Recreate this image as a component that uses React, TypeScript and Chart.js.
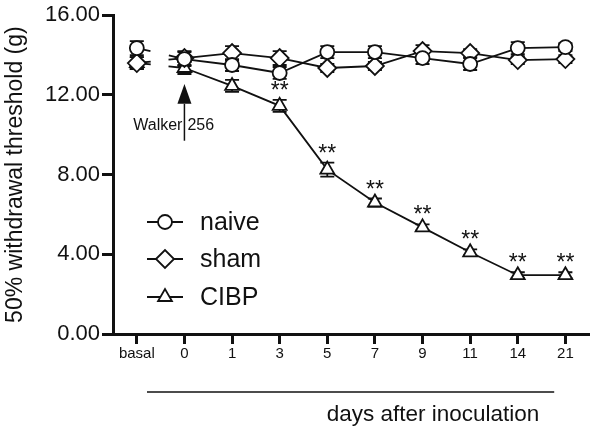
import React, { useEffect, useRef } from "react";
import { Chart, registerables } from "chart.js";

Chart.register(...registerables);

const categories = ["basal", "0", "1", "3", "5", "7", "9", "11", "14", "21"];
const naive = [14.35, 13.8, 13.5, 13.1, 14.15, 14.15, 13.85, 13.55, 14.35, 14.4];
const sham = [13.6, 13.85, 14.1, 13.85, 13.35, 13.45, 14.2, 14.1, 13.75, 13.8];
const cibp = [13.6, 13.35, 12.45, 11.45, 8.25, 6.6, 5.35, 4.1, 2.95, 2.95];
const naiveSem = [0.35, 0.35, 0.3, 0.3, 0.3, 0.3, 0.3, 0.3, 0.3, 0.2];
const shamSem = [0.3, 0.35, 0.35, 0.35, 0.2, 0.2, 0.3, 0.2, 0.2, 0.2];
const cibpSem = [0.3, 0.3, 0.3, 0.3, 0.35, 0.2, 0.15, 0.15, 0.15, 0.15];
const cibpStars = ["", "", "", "**", "**", "**", "**", "**", "**", "**"];
const yTicks = [0, 4, 8, 12, 16];
const seriesNames = ["naive", "sham", "CIBP"];
const injectionLabelLeft = "Walker";
const injectionLabelRight = "256";
const xTitle = "days after inoculation";
const yTitle = "50% withdrawal threshold (g)";

const FONT = "'Liberation Sans', Arial, Helvetica, sans-serif";
const INK = "#111";

function drawMarker(ctx: CanvasRenderingContext2D, style: string, x: number, y: number, r: number) {
  ctx.beginPath();
  if (style === "circle") {
    ctx.arc(x, y, r, 0, Math.PI * 2);
  } else if (style === "rectRot") {
    ctx.moveTo(x - r, y);
    ctx.lineTo(x, y - r);
    ctx.lineTo(x + r, y);
    ctx.lineTo(x, y + r);
  } else {
    const edge = (3 * r) / Math.sqrt(3);
    const h = (edge * Math.sqrt(3)) / 2;
    ctx.moveTo(x - edge / 2, y + h / 3);
    ctx.lineTo(x + edge / 2, y + h / 3);
    ctx.lineTo(x, y - (2 * h) / 3);
  }
  ctx.closePath();
  ctx.fillStyle = "#fff";
  ctx.fill();
  ctx.strokeStyle = INK;
  ctx.lineWidth = 1.8;
  ctx.stroke();
}

const sems = [naiveSem, shamSem, cibpSem];

const customPlugin = {
  id: "custom",
  beforeDatasetsDraw(chart: any) {
    const ctx = chart.ctx as CanvasRenderingContext2D;
    const y = chart.scales.y;
    ctx.save();
    ctx.strokeStyle = INK;
    ctx.lineWidth = 1.8;
    chart.data.datasets.forEach((ds: any, i: number) => {
      const meta = chart.getDatasetMeta(i);
      const err = sems[i];
      meta.data.forEach((pt: any, j: number) => {
        const v = ds.data[j];
        const yt = y.getPixelForValue(v + err[j]);
        const yb = y.getPixelForValue(v - err[j]);
        ctx.beginPath();
        ctx.moveTo(pt.x, yt);
        ctx.lineTo(pt.x, yb);
        ctx.moveTo(pt.x - 7, yt);
        ctx.lineTo(pt.x + 7, yt);
        ctx.moveTo(pt.x - 7, yb);
        ctx.lineTo(pt.x + 7, yb);
        ctx.stroke();
      });
      // short stubs across the basal / day-0 break
      const p0 = meta.data[0];
      const p1 = meta.data[1];
      const dx = p1.x - p0.x;
      const dy = p1.y - p0.y;
      const len = Math.hypot(dx, dy);
      const ux = dx / len;
      const uy = dy / len;
      ctx.beginPath();
      ctx.moveTo(p0.x, p0.y);
      ctx.lineTo(p0.x + ux * 14, p0.y + uy * 14);
      ctx.moveTo(p1.x, p1.y);
      ctx.lineTo(p1.x - ux * 16, p1.y - uy * 16);
      ctx.stroke();
    });
    ctx.restore();
  },
  afterDatasetsDraw(chart: any) {
    const ctx = chart.ctx as CanvasRenderingContext2D;
    const y = chart.scales.y;
    const meta = chart.getDatasetMeta(2);
    ctx.save();
    ctx.fillStyle = INK;
    ctx.font = `23px ${FONT}`;
    ctx.textAlign = "center";
    ctx.textBaseline = "alphabetic";
    meta.data.forEach((pt: any, j: number) => {
      if (!cibpStars[j]) return;
      const yt = y.getPixelForValue(cibp[j] + cibpSem[j]);
      ctx.fillText(cibpStars[j], pt.x, yt - 2);
    });
    ctx.restore();
  },
  afterDraw(chart: any) {
    const ctx = chart.ctx as CanvasRenderingContext2D;
    const xs = chart.scales.x;
    const ys = chart.scales.y;
    const area = chart.chartArea;
    ctx.save();

    // Legend
    const legendY = [222, 259, 297];
    const styles = ["circle", "rectRot", "triangle"];
    const radii = [7, 9, 8];
    styles.forEach((s, i) => {
      const cy = legendY[i];
      ctx.strokeStyle = INK;
      ctx.lineWidth = 1.8;
      ctx.beginPath();
      ctx.moveTo(147, cy);
      ctx.lineTo(183, cy);
      ctx.stroke();
      drawMarker(ctx, s, 165, cy, radii[i]);
      ctx.fillStyle = INK;
      ctx.font = `25px ${FONT}`;
      ctx.textAlign = "left";
      ctx.textBaseline = "middle";
      ctx.fillText(chart.data.datasets[i].label, 200, cy + 1);
    });

    // Injection arrow
    const ax = xs.getPixelForValue(1);
    const tip = ys.getPixelForValue(12.55);
    const base = ys.getPixelForValue(11.55);
    const end = ys.getPixelForValue(9.7);
    ctx.fillStyle = INK;
    ctx.beginPath();
    ctx.moveTo(ax, tip);
    ctx.lineTo(ax - 7, base);
    ctx.lineTo(ax + 7, base);
    ctx.closePath();
    ctx.fill();
    ctx.strokeStyle = INK;
    ctx.lineWidth = 1.5;
    ctx.beginPath();
    ctx.moveTo(ax, base);
    ctx.lineTo(ax, end);
    ctx.stroke();
    ctx.font = `16px ${FONT}`;
    ctx.textBaseline = "middle";
    const ty = ys.getPixelForValue(10.45);
    ctx.textAlign = "right";
    ctx.fillText(injectionLabelLeft, ax - 2, ty);
    ctx.textAlign = "left";
    ctx.fillText(injectionLabelRight, ax + 3, ty);

    // bottom bracket line and x title
    ctx.lineWidth = 1.5;
    ctx.beginPath();
    ctx.moveTo(area.left + 34, 392);
    ctx.lineTo(area.right - 35, 392);
    ctx.stroke();
    ctx.font = `22.5px ${FONT}`;
    ctx.textAlign = "center";
    ctx.textBaseline = "middle";
    ctx.fillText(xTitle, 433, 415);
    ctx.restore();
  },
};

export default function App() {
  const ref = useRef<HTMLCanvasElement | null>(null);
  useEffect(() => {
    if (!ref.current) return;
    Chart.defaults.font.family = FONT;
    Chart.defaults.color = INK;
    const mk = (label: string, data: number[], style: string, r: number) => ({
      label,
      data,
      borderColor: INK,
      borderWidth: 1.8,
      backgroundColor: "#fff",
      pointStyle: style,
      pointRadius: r,
      pointBorderWidth: 1.8,
      pointBackgroundColor: "#fff",
      pointBorderColor: INK,
      tension: 0,
      segment: {
        borderColor: (c: any) => (c.p0DataIndex === 0 ? "rgba(0,0,0,0)" : INK),
      },
    });
    const chart = new Chart(ref.current, {
      type: "line",
      data: {
        labels: categories,
        datasets: [
          mk(seriesNames[0], naive, "circle", 7),
          mk(seriesNames[1], sham, "rectRot", 9),
          mk(seriesNames[2], cibp, "triangle", 8),
        ],
      },
      options: {
        responsive: true,
        maintainAspectRatio: false,
        animation: false,
        layout: { padding: { top: 14, right: 5, left: 0, bottom: 0 } },
        plugins: { legend: { display: false }, tooltip: { enabled: false } },
        scales: {
          x: {
            type: "category",
            offset: true,
            grid: {
              display: true,
              offset: false,
              drawOnChartArea: false,
              drawTicks: true,
              tickLength: 10,
              tickWidth: 3,
              color: INK,
            },
            border: { display: true, width: 3, color: INK },
            ticks: { font: { size: 15 }, color: INK, padding: 1, maxRotation: 0, autoSkip: false },
            afterFit: (s: any) => {
              s.height = 97;
            },
          },
          y: {
            min: 0,
            max: 16,
            afterBuildTicks: (s: any) => {
              s.ticks = yTicks.map((v) => ({ value: v }));
            },
            grid: {
              display: true,
              drawOnChartArea: false,
              drawTicks: true,
              tickLength: 11,
              tickWidth: 3,
              color: INK,
            },
            border: { display: true, width: 3, color: INK },
            ticks: {
              font: { size: 22 },
              color: INK,
              padding: 2,
              callback: (v: any) => Number(v).toFixed(2),
            },
            title: {
              display: true,
              text: yTitle,
              font: { size: 23 },
              color: INK,
              padding: { top: 2, bottom: 0 },
            },
            afterFit: (s: any) => {
              s.width = 113;
            },
          },
        },
      },
      plugins: [customPlugin],
    } as any);
    return () => chart.destroy();
  }, []);
  return (
    <div style={{ position: "fixed", left: 0, top: 0, width: 600, height: 431, background: "#fff" }}>
      <canvas ref={ref} />
    </div>
  );
}
